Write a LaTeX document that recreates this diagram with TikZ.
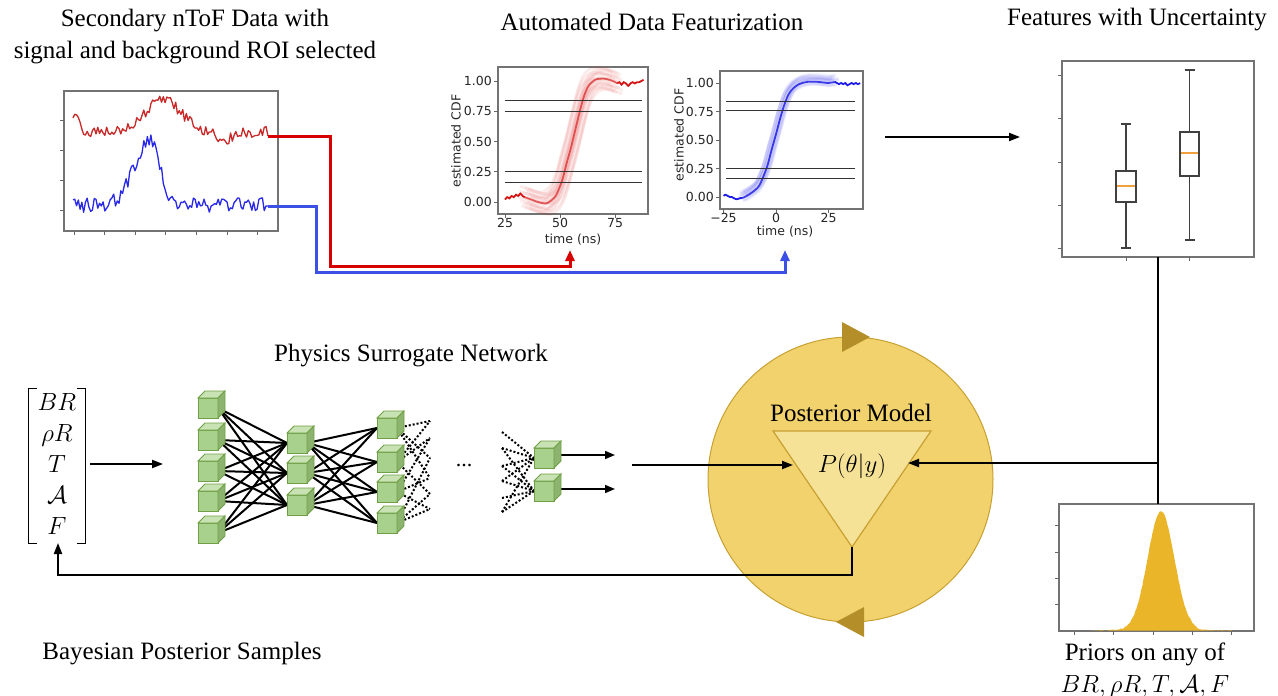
\documentclass[tikz,border=0pt]{standalone}
\usepackage{amsmath}
\usepackage{fontspec}
\setmainfont{Liberation Serif}
\newfontfamily\plotfont{DejaVu Sans}
\usetikzlibrary{arrows.meta}
\pgfdeclarelayer{background}
\pgfsetlayers{background,main}
\definecolor{cuFront}{RGB}{169,209,142}
\definecolor{cuTop}{RGB}{200,226,180}
\definecolor{cuSide}{RGB}{140,180,110}
\definecolor{cuEdge}{RGB}{112,160,70}
\definecolor{nred}{RGB}{215,0,0}
\definecolor{nblue}{RGB}{60,80,230}
\definecolor{circFill}{RGB}{242,210,108}
\definecolor{circEdge}{RGB}{200,160,50}
\definecolor{triFill}{RGB}{245,226,150}
\definecolor{goldArrow}{RGB}{180,142,40}
\definecolor{histGold}{RGB}{235,181,42}
\definecolor{plotRed}{RGB}{200,40,40}
\definecolor{plotBlue}{RGB}{40,40,230}
\definecolor{cdfRed}{RGB}{215,20,20}
\definecolor{cdfBlue}{RGB}{30,30,230}
\definecolor{boxOrange}{RGB}{240,160,60}
\newcommand{\gcube}[3]{%
  \node[cubefront] (#1) at (#2,#3) {};
  \filldraw[fill=cuTop, draw=cuEdge, line width=0.8pt] (#1.north west) -- ++(7,-7) -- ++(20,0) -- (#1.north east) -- cycle;
  \filldraw[fill=cuSide, draw=cuEdge, line width=0.8pt] (#1.north east) -- ++(7,-7) -- ++(0,20) -- (#1.south east) -- cycle;
}
\newcommand{\redMid}{(34,0.04) (37,0.02) (40,0.0) (44,-0.01) (48,0.05) (51,0.18) (53,0.32) (55,0.45) (57,0.6) (59,0.75) (61,0.88) (63,0.96) (66,1.01) (70,1.02) (74,1.0) (76,0.98)}
\newcommand{\blueMid}{(-16,-0.01) (-13,0.02) (-10,0.06) (-8,0.1) (-6,0.18) (-4,0.28) (-2,0.42) (0,0.55) (2,0.69) (4,0.81) (6,0.9) (8,0.95) (11,0.99) (15,1.01) (20,1.01) (25,1.0) (28,1.01)}
\begin{document}
\begin{tikzpicture}[x=1pt,y=-1pt,
  declare function={gau(\ga,\gb)=exp(max(-9,-(\ga/\gb)*(\ga/\gb)));},
  ttl/.style={font=\fontsize{25}{32}\selectfont, inner sep=0pt, align=center},
  ticklab/.style={font=\plotfont\fontsize{12.5}{15}\selectfont, inner sep=1pt, text=black!85},
  pframe/.style={draw=black!55, line width=1.1pt},
  ptick/.style={draw=black!60, line width=0.9pt},
  cdfline/.style={draw=black!80, line width=1.4pt},
  conn/.style={line width=2pt, -{Triangle[length=11pt,width=8pt]}},
  redconn/.style={draw=nred, line width=3pt, -{Triangle[length=11pt,width=9pt]}},
  blueconn/.style={draw=nblue, line width=3pt, -{Triangle[length=11pt,width=9pt]}},
  cubefront/.style={fill=cuFront, draw=cuEdge, line width=0.8pt, minimum size=20pt, inner sep=0pt, outer sep=0pt},
  netline/.style={line width=2pt, black},
  netdot/.style={line width=2pt, dash pattern=on 2pt off 2pt, black},
  outarr/.style={line width=1.5pt, -{Triangle[length=10pt,width=8pt]}},
  boxln/.style={draw=black!75, line width=1.2pt},
  brk/.style={line width=1.3pt, black},
]
\useasboundingbox (0,0) rectangle (1278,696);
\pgfmathsetseed{11}

% ---------- titles ----------
\node[ttl] (ttlSig) at (195,37) {Secondary nToF Data with\\signal and background ROI selected};
\node[ttl] (ttlFeat) at (652,22) {Automated Data Featurization};
\node[ttl] (ttlUnc) at (1137,20) {Features with Uncertainty};
\node[ttl] (ttlNet) at (411,356) {Physics Surrogate Network};
\node[ttl] (ttlBayes) at (182,654) {Bayesian Posterior Samples};
\node[ttl] (ttlPrior) at (1145,670) {Priors on any of\\$BR,\rho R,T,\mathcal{A},F$};

% ---------- signal plot ----------
\draw[pframe] (64,91) rectangle (278,231);
\foreach \yy in {120,150,180,210} \draw[ptick] (64,\yy) -- (60,\yy);
\foreach \xx in {74,104,135,165,196,227,257} \draw[ptick] (\xx,231) -- (\xx,235);
\draw[plotRed, line width=1.3pt, line join=round] plot[domain=73:266, samples=110]
  (\x, {132 - 16*gau(\x-75,6) - 32*gau(\x-163,25) + 8*gau(\x-225,12) + 5.5*rand}) -- (268,136);
\draw[plotBlue, line width=1.3pt, line join=round] plot[domain=73:266, samples=110]
  (\x, {205 - 64*gau(\x-150,ifthenelse(\x<150,22,14)) + 7.5*rand}) -- (268,206);
\coordinate (redEnd) at (268,136);
\coordinate (blueEnd) at (268,206);

% ---------- CDF plot (red) ----------
\draw[pframe] (498,67) rectangle (648,214);
\begin{scope}[shift={(450,202)}, x=2.2pt, y=121pt]
  \foreach \dx/\dy in {-3/0,-2.5/0.05,-2/-0.03,-1.5/-0.07,-1/0.04,-0.5/-0.05,0/0.08,0/-0.08,0.5/0.05,1/-0.04,1.5/0.07,2/0.03,2.5/-0.06,3/0,-2.2/0.09,2.2/-0.09,-0.8/0,0.8/0}
    \draw[cdfRed, opacity=0.075, line width=3pt, shift={(\dx,\dy)}] plot[smooth] coordinates {\redMid};
  \draw[cdfRed, opacity=0.65, line width=1.8pt] plot[smooth] coordinates {\redMid};
  \draw[cdfRed, line width=1.8pt] plot[smooth] coordinates {(25,0.02) (26,0.04) (27,0.03) (28,0.05) (29,0.04) (30,0.06) (31,0.05) (32,0.07) (33,0.05) (34,0.04)};
  \draw[cdfRed, line width=1.8pt] plot[smooth] coordinates {(76,0.98) (77,0.99) (78,0.97) (79,0.99) (80,0.98) (81,0.96) (82,0.98) (83,0.99) (84,0.98) (85,0.99) (86,0.99) (87,1.0) (88,1.01)};
\end{scope}
\foreach \vv in {0.84,0.75,0.25,0.16} \draw[cdfline] (505,{202-121*\vv}) -- (642,{202-121*\vv});
\foreach \vv/\lab in {0/0.00,0.25/0.25,0.5/0.50,0.75/0.75,1/1.00} {
  \draw[ptick] (498,{202-121*\vv}) -- (494,{202-121*\vv});
  \node[ticklab, anchor=east] at (493,{202-121*\vv}) {\lab};
}
\foreach \tt in {25,50,75} {
  \draw[ptick] ({450+2.2*\tt},214) -- ({450+2.2*\tt},218);
  \node[ticklab, anchor=north] at ({450+2.2*\tt},217) {\tt};
}
\node[ticklab] (xlabR) at (573,240) {time (ns)};
\node[ticklab, rotate=90] (ylabR) at (456,141) {estimated CDF};
\coordinate (cdfRin) at (570,250);

% ---------- CDF plot (blue) ----------
\draw[pframe] (720,71) rectangle (863,209);
\begin{scope}[shift={(776,197)}, x=2.1pt, y=114pt]
  \foreach \dx/\dy in {-1.5/0.03,1.5/0.03,-1/0.05,1/-0.02,0/0.04,-2/0,2/0.02,0.5/0.06,-0.5/0.02,0/-0.02}
    \draw[cdfBlue, opacity=0.09, line width=3pt, shift={(\dx,\dy)}] plot[smooth] coordinates {\blueMid};
  \draw[cdfBlue, opacity=0.85, line width=1.8pt] plot[smooth] coordinates {\blueMid};
  \draw[cdfBlue, line width=1.8pt] plot[smooth] coordinates {(-25,0.01) (-24,0.02) (-23,0.01) (-22,0.0) (-21,0.0) (-19,-0.02) (-17,-0.01) (-16,-0.01)};
  \draw[cdfBlue, line width=1.8pt] plot[smooth] coordinates {(28,1.01) (29,1.0) (30,0.99) (31,1.0) (32,0.99) (33,1.0) (34,0.98) (35,0.99) (36,1.0) (37,0.99) (38,1.0) (39,0.99) (40,1.0)};
\end{scope}
\foreach \vv in {0.84,0.76,0.25,0.16} \draw[cdfline] (726,{197-114*\vv}) -- (855,{197-114*\vv});
\foreach \vv/\lab in {0/0.00,0.25/0.25,0.5/0.50,0.75/0.75,1/1.00} {
  \draw[ptick] (720,{197-114*\vv}) -- (716,{197-114*\vv});
  \node[ticklab, anchor=east] at (715,{197-114*\vv}) {\lab};
}
\foreach \tt/\lab in {-25/−25,0/0,25/25} {
  \draw[ptick] ({776+2.1*\tt},209) -- ({776+2.1*\tt},213);
  \node[ticklab, anchor=north] at ({776+2.1*\tt},212) {\lab};
}
\node[ticklab] (xlabB) at (785,232) {time (ns)};
\node[ticklab, rotate=90] (ylabB) at (679,135) {estimated CDF};
\coordinate (cdfBin) at (785,250);

% ---------- connectors from signal plot ----------
\draw[redconn] (redEnd) -| (330,266) -| (cdfRin);
\draw[blueconn] (blueEnd) -| (316,272) -| (cdfBin);

% ---------- featurization -> boxplot ----------
\coordinate (featOut) at (885,137);
\coordinate (boxIn) at (1020,137);
\draw[conn] (featOut) -- (boxIn);

% ---------- boxplot ----------
\draw[pframe] (1062,61) rectangle (1254,257);
\foreach \yy in {75,118,162,205,248} \draw[ptick] (1062,\yy) -- (1058,\yy);
\foreach \xx in {1126,1189} \draw[ptick] (\xx,257) -- (\xx,261);
\draw[boxln] (1126,171) -- (1126,124) (1121,124) -- (1131,124);
\draw[boxln] (1126,202) -- (1126,248) (1121,248) -- (1131,248);
\draw[boxln] (1116,171) rectangle (1136,202);
\draw[boxOrange, line width=1.3pt] (1117,186) -- (1135,186);
\draw[boxln] (1189.5,132) -- (1189.5,70) (1184.5,70) -- (1194.5,70);
\draw[boxln] (1189.5,176) -- (1189.5,240) (1184.5,240) -- (1194.5,240);
\draw[boxln] (1180,132) rectangle (1199,176);
\draw[boxOrange, line width=1.3pt] (1181,153) -- (1198,153);

% ---------- prior histogram ----------
\draw[pframe] (1059,504) rectangle (1254,631);
\foreach \yy in {525,552,578,604} \draw[ptick] (1059,\yy) -- (1055,\yy);
\foreach \xx in {1074,1113,1153,1192,1231} \draw[ptick] (\xx,631) -- (\xx,635);
\fill[histGold] (1092,630.5) -- plot[domain=1092:1232, samples=140] (\x, {630.5 - 119*gau(\x-1161,19) + 0.8*rand}) -- (1232,630.5) -- cycle;
\coordinate (boxBot) at (1158,257);
\coordinate (priorTop) at (1158,504);
\coordinate (junc) at (1158,463);
\draw[line width=2pt] (boxBot) -- (priorTop);

% ---------- posterior model ----------
\node[circle, fill=circFill, draw=circEdge, line width=1pt, minimum size=285pt, inner sep=0pt] (loop) at (850.5,479.5) {};
\fill[goldArrow] (842,322) -- (842,352) -- (870,337) -- cycle;
\fill[goldArrow] (864,607) -- (864,637) -- (836,622) -- cycle;
\coordinate (triTL) at (773,431);
\coordinate (triTR) at (931,431);
\coordinate (triB) at (852,547);
\filldraw[fill=triFill, draw=circEdge, line width=1.2pt] (triTL) -- (triTR) -- (triB) -- cycle;
\node[ttl] (postLabel) at (851,413) {Posterior Model};
\node[font=\fontsize{30}{36}\selectfont, inner sep=0pt] (pty) at (852,466) {$P(\theta|y)$};
\coordinate (triL) at (793,465);
\coordinate (triR) at (908,465);
\draw[conn] (junc) -- (triR |- junc);

% ---------- parameter vector ----------
\node[font=\fontsize{26}{31}\selectfont, inner xsep=0pt, inner ysep=0pt, minimum width=56pt, minimum height=148pt] (params) at (57,466)
  {$\begin{matrix} BR\\ \rho R\\ T\\ \mathcal{A}\\ F\end{matrix}$};
\draw[brk] ([xshift=8]params.north west) -- (params.north west) -- (params.south west) -- ([xshift=8]params.south west);
\draw[brk] ([xshift=-8]params.north east) -- (params.north east) -- (params.south east) -- ([xshift=-8]params.south east);
\coordinate (netIn) at (163,464);
\coordinate (matB) at (58,543);
\draw[conn] ([xshift=5]params.east |- netIn) -- (netIn);
\draw[conn] (triB) -- ++(0,28) -| (matB);

% ---------- network ----------
\gcube{a1}{208}{408}
\gcube{a2}{208}{440}
\gcube{a3}{208}{471}
\gcube{a4}{208}{501}
\gcube{a5}{208}{533}
\gcube{b1}{297}{443}
\gcube{b2}{297}{473}
\gcube{b3}{297}{505}
\gcube{c1}{387}{428}
\gcube{c2}{387}{462}
\gcube{c3}{387}{492}
\gcube{c4}{387}{523}
\gcube{o1}{544}{458}
\gcube{o2}{544}{491}
\foreach \k/\yy in {1/421,2/438,3/458,4/478,5/494,6/509} \coordinate (d\k) at (430,\yy);
\foreach \k/\yy in {1/432,2/448,3/466,4/481,5/498,6/512} \coordinate (e\k) at (502,\yy);
\coordinate (o1end) at (615,455);
\coordinate (o2end) at (615,489);
\coordinate (netOut) at (632,465);
\node[font=\fontsize{22}{26}\selectfont, inner sep=0pt] (ellip) at (464,466) {...};
\begin{pgfonlayer}{background}
  \foreach \i in {1,...,5} \foreach \j in {1,2,3} \draw[netline] (a\i.east) -- (b\j.west);
  \foreach \i in {1,2,3} \foreach \j in {1,...,4} \draw[netline] (b\i.east) -- (c\j.west);
  \foreach \i/\j in {1/1,1/3,1/4,2/2,2/1,2/5,3/2,3/4,3/6,4/3,4/5,4/6} \draw[netdot] (c\i.east) -- (d\j);
  \foreach \i/\j in {1/1,2/1,2/2,3/1,3/2,4/2,4/1,5/2,6/2,6/1} \draw[netdot] (e\i) -- (o\j.west);
  \draw[outarr] (o1.east |- o1end) -- (o1end);
  \draw[outarr] (o2.east |- o2end) -- (o2end);
\end{pgfonlayer}
\draw[conn] (netOut) -- (triL);
\end{tikzpicture}
\end{document}
